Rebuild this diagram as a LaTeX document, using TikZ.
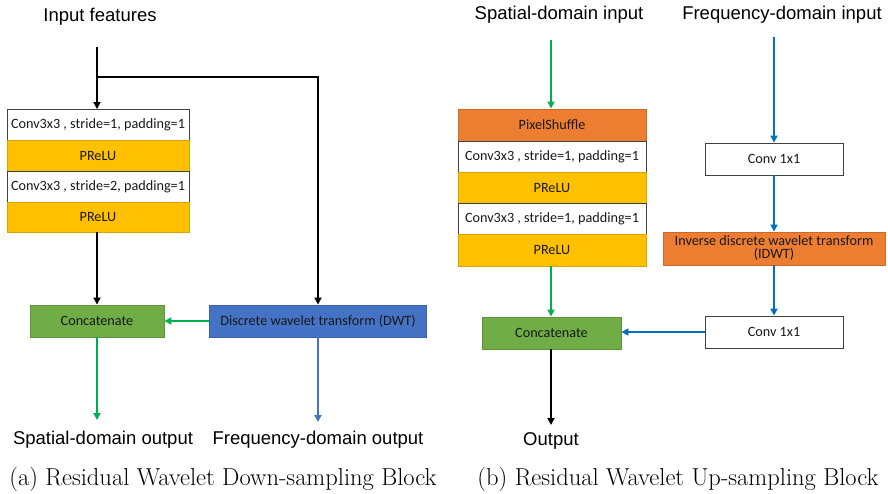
\documentclass[tikz,border=0pt]{standalone}
\usepackage{fontspec}
\setmainfont{Latin Modern Roman}
\newfontfamily\arialf{Liberation Sans}
\newfontfamily\calf{Carlito}
\usetikzlibrary{arrows.meta}
\definecolor{prelu}{HTML}{FFC000}
\definecolor{gfill}{HTML}{70AD47}
\definecolor{bfill}{HTML}{4472C4}
\definecolor{ofill}{HTML}{ED7D31}
\definecolor{garrow}{HTML}{00B050}
\definecolor{barrow}{HTML}{0070C0}
\definecolor{barrowa}{HTML}{4472C4}
\definecolor{boxline}{HTML}{404040}
\tikzset{
  blk/.style={rectangle, draw=boxline, line width=0.9pt, inner sep=0pt, align=center,
    font=\calf\fontsize{14.2}{15}\selectfont, text=black!90},
  wbox/.style={blk, fill=white},
  ybox/.style={blk, fill=prelu, draw=prelu!85!black},
  gbox/.style={blk, fill=gfill, draw=gfill!85!black},
  bbox/.style={blk, fill=bfill, draw=bfill!85!black},
  obox/.style={blk, fill=ofill, draw=ofill!85!black},
  lbl/.style={font=\arialf\fontsize{18.5}{21}\selectfont, inner sep=0pt},
  captxt/.style={font=\fontsize{24.5}{26}\selectfont, inner sep=0pt},
  arr/.style={line width=2pt, -{Triangle[length=7pt,width=7pt]}},
}
\begin{document}
\begin{tikzpicture}[x=1pt,y=-1pt]
\useasboundingbox (0,0) rectangle (888,493);
% ---------- (a) ----------
\node[lbl] (inf) at (100,17) {Input features};
\coordinate (ia) at (97,47);
\coordinate (ib) at (97,77);
\coordinate (ic) at (318,77);
\node[wbox, minimum width=182, minimum height=31] (c1) at (98,125) {Conv3x3 , stride=1, padding=1};
\node[ybox, minimum width=182, minimum height=31] (p1) at (98,155.5) {PReLU};
\node[wbox, minimum width=182, minimum height=31] (c2) at (98,186.5) {Conv3x3 , stride=2, padding=1};
\node[ybox, minimum width=182, minimum height=30] (p2) at (98,217) {PReLU};
\node[gbox, minimum width=134, minimum height=32] (cat) at (97,321) {Concatenate};
\node[bbox, minimum width=217, minimum height=32] (dwt) at (318,321) {Discrete wavelet transform (DWT)};
\draw[line width=2pt] (ia) -- (ib);
\draw[arr] (ib) -- (c1.north -| ib);
\draw[arr] (ib) -- (ic) -- (dwt.north);
\draw[arr] (p2.south -| cat.north) -- (cat.north);
\draw[arr, draw=garrow, fill=garrow] (dwt.west) -- (cat.east);
\coordinate (so) at (97,420);
\coordinate (fo) at (318,422);
\draw[arr, draw=garrow, fill=garrow] (cat.south) -- (so);
\draw[arr, draw=barrowa, fill=barrowa] (dwt.south) -- (fo);
\node[lbl] (sol) at (103,440) {Spatial-domain output};
\node[lbl] (fol) at (318,440) {Frequency-domain output};
\node[captxt] (capa) at (223,479) {(a) Residual Wavelet Down-sampling Block};
% ---------- (b) ----------
\node[lbl] (sin) at (559,15) {Spatial-domain input};
\node[lbl] (fin) at (782,15) {Frequency-domain input};
\coordinate (sa) at (551,40);
\coordinate (fa) at (774,37);
\node[obox, minimum width=188, minimum height=32] (ps) at (552,125) {PixelShuffle};
\node[wbox, minimum width=188, minimum height=31] (rc1) at (552,156.5) {Conv3x3 , stride=1, padding=1};
\node[ybox, minimum width=188, minimum height=31] (rp1) at (552,187.5) {PReLU};
\node[wbox, minimum width=188, minimum height=31] (rc2) at (552,218.5) {Conv3x3 , stride=1, padding=1};
\node[ybox, minimum width=188, minimum height=32] (rp2) at (552,250) {PReLU};
\node[wbox, minimum width=138, minimum height=32] (k1) at (774,159) {Conv 1x1};
\node[obox, minimum width=222, minimum height=33] (idwt) at (774,248.5) {Inverse discrete wavelet transform\\[-2pt](IDWT)};
\node[wbox, minimum width=138, minimum height=32] (k2) at (774,332) {Conv 1x1};
\node[gbox, minimum width=139, minimum height=32] (rcat) at (551.5,333) {Concatenate};
\draw[arr, draw=garrow, fill=garrow] (sa) -- (ps.north -| sa);
\draw[arr, draw=garrow, fill=garrow] (rp2.south -| sa) -- (rcat.north -| sa);
\draw[arr, draw=barrow, fill=barrow] (fa) -- (k1.north);
\draw[arr, draw=barrow, fill=barrow] (k1.south) -- (idwt.north);
\draw[arr, draw=barrow, fill=barrow] (idwt.south) -- (k2.north);
\draw[arr, draw=barrow, fill=barrow] (k2.west) -- (k2.west -| rcat.east);
\coordinate (ro) at (551,425);
\draw[arr] (rcat.south -| ro) -- (ro);
\node[lbl] (out) at (551,441) {Output};
\node[captxt] (capb) at (678,479) {(b) Residual Wavelet Up-sampling Block};
\end{tikzpicture}
\end{document}
